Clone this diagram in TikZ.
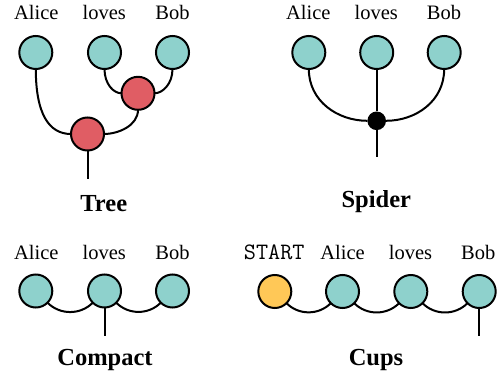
\documentclass[tikz,border=0pt]{standalone}
\usepackage{fontspec}
\setmainfont{Liberation Serif}
\definecolor{tealw}{RGB}{142,209,204}
\definecolor{redw}{RGB}{224,93,100}
\definecolor{orangew}{RGB}{255,200,87}
\tikzset{
  wordbox/.style={circle,draw=black,line width=2pt,fill=tealw,minimum size=33pt,inner sep=0pt,outer sep=0pt},
  redbox/.style={wordbox,fill=redw},
  startbox/.style={wordbox,fill=orangew},
  dotbox/.style={circle,fill=black,minimum size=18.6pt,inner sep=0pt,outer sep=0pt},
  wire/.style={line width=2pt},
  wordlabel/.style={anchor=base,inner sep=0pt,font=\fontsize{20.5}{24}\selectfont},
  startlabel/.style={anchor=base,inner sep=0pt,font=\fontsize{23.5}{26}\selectfont\ttfamily},
  titlelabel/.style={anchor=base,inner sep=0pt,font=\fontsize{24.5}{29}\selectfont\bfseries}
}
\begin{document}
\begin{tikzpicture}[x=1pt,y=1pt]
\useasboundingbox (0,0) rectangle (500,-374);
% ---------- Tree ----------
\node[wordlabel] (tla) at (36.3,-20) {Alice};
\node[wordlabel] (tll) at (104.3,-20) {loves};
\node[wordlabel] (tlb) at (172.5,-20) {Bob};
\node[wordbox] (ta) at (35.8,-52.5) {};
\node[wordbox] (tl) at (104.5,-52.5) {};
\node[wordbox] (tb) at (172.5,-52.5) {};
\node[redbox] (r1) at (138,-93.3) {};
\node[redbox] (r2) at (87.5,-134) {};
\coordinate (tend) at (87.5,-179);
\draw[wire] (tl.south) .. controls +(0,-15) and +(-8,0) .. (r1.west);
\draw[wire] (tb.south) .. controls +(0,-15) and +(8,0) .. (r1.east);
\draw[wire] (ta.south) .. controls +(0,-45) and +(-22,0) .. (r2.west);
\draw[wire] (r1.south) .. controls +(0,-16) and +(14,0) .. (r2.east);
\draw[wire] (r2.south) -- (tend);
\node[titlelabel] (ttree) at (103.8,-211) {Tree};
% ---------- Spider ----------
\node[wordlabel] (sla) at (308.3,-20) {Alice};
\node[wordlabel] (sll) at (376.3,-20) {loves};
\node[wordlabel] (slb) at (444,-20) {Bob};
\node[wordbox] (sa) at (308.8,-52.5) {};
\node[wordbox] (sl) at (376.7,-52.5) {};
\node[wordbox] (sb) at (444.2,-52.5) {};
\node[dotbox] (sd) at (376.7,-120.8) {};
\coordinate (send) at (376.7,-156.7);
\draw[wire] (sa.south) .. controls +(0,-32) and +(-30,0) .. (sd.west);
\draw[wire] (sb.south) .. controls +(0,-32) and +(30,0) .. (sd.east);
\draw[wire] (sl.south) -- (sd.north);
\draw[wire] (sd.south) -- (send);
\node[titlelabel] (tspider) at (376.3,-207) {Spider};
% ---------- Compact ----------
\node[wordlabel] (cla) at (36.3,-259.3) {Alice};
\node[wordlabel] (cll) at (104.3,-259.3) {loves};
\node[wordlabel] (clb) at (172.5,-259.3) {Bob};
\node[wordbox] (ca) at (35.8,-291) {};
\node[wordbox] (cl) at (104.5,-291) {};
\node[wordbox] (cb) at (172.5,-291) {};
\coordinate (cend) at (104.5,-335.7);
\draw[wire] (ca.-45) to[out=-45,in=-135] (cl.-135);
\draw[wire] (cl.-45) to[out=-45,in=-135] (cb.-135);
\draw[wire] (cl.south) -- (cend);
\node[titlelabel] (tcompact) at (105,-365) {Compact};
% ---------- Cups ----------
\node[startlabel] (uls) at (274.2,-259.3) {START};
\node[wordlabel] (ula) at (342.5,-259.3) {Alice};
\node[wordlabel] (ull) at (410.5,-259.3) {loves};
\node[wordlabel] (ulb) at (478.3,-259.3) {Bob};
\node[startbox] (us) at (274.8,-291.5) {};
\node[wordbox] (ua) at (342.5,-291.5) {};
\node[wordbox] (ul) at (410.8,-291.5) {};
\node[wordbox] (ub) at (479.2,-291.5) {};
\coordinate (uend) at (479.2,-335.7);
\draw[wire] (us.-45) to[out=-45,in=-135] (ua.-135);
\draw[wire] (ua.-45) to[out=-45,in=-135] (ul.-135);
\draw[wire] (ul.-45) to[out=-45,in=-135] (ub.-135);
\draw[wire] (ub.south) -- (uend);
\node[titlelabel] (tcups) at (376,-365) {Cups};
\end{tikzpicture}
\end{document}
